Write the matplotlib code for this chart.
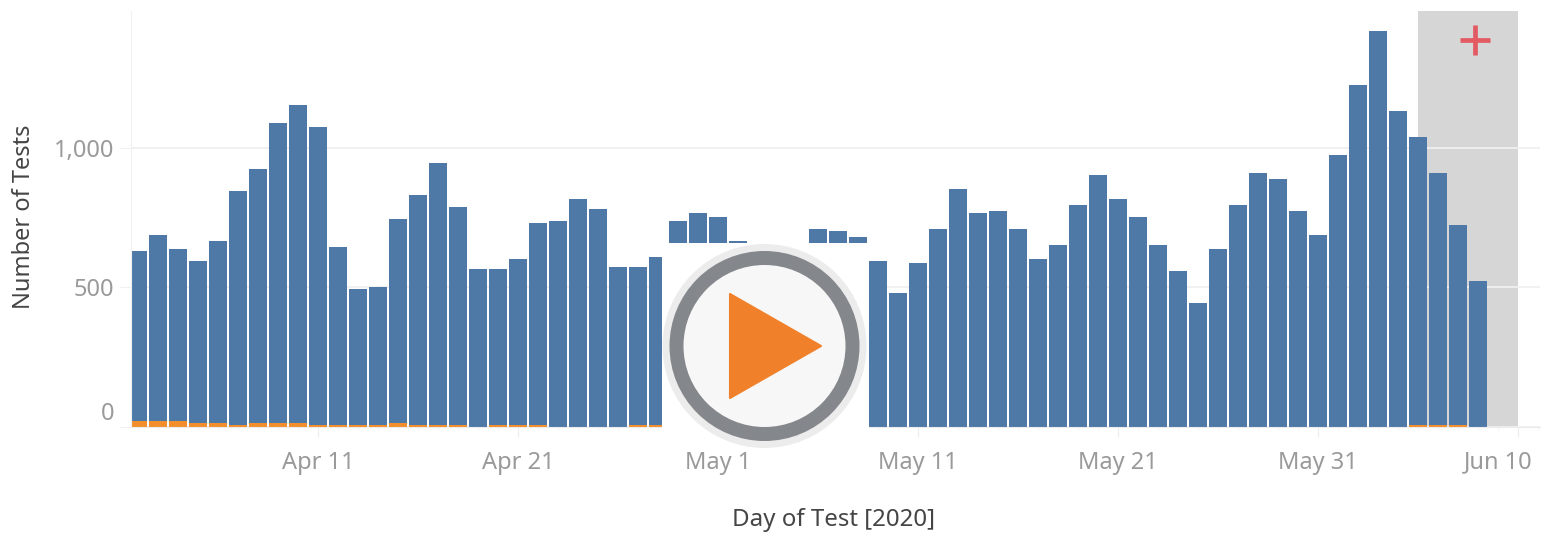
import numpy as np
import pandas as pd
import matplotlib
matplotlib.use('Agg')
import matplotlib.pyplot as plt
import matplotlib.dates as mdates
from matplotlib.patches import Circle, Polygon, Rectangle
from matplotlib.transforms import ScaledTranslation

plt.rcParams['font.family'] = ['Noto Sans', 'DejaVu Sans']

first_day = '2020-04-02'
# negative tests per day, Apr 2 to Jun 8 (three bars behind the play button are guessed)
blue_top = [630, 688, 638, 595, 667, 846, 925, 1090, 1154, 1075,
            645, 495, 502, 745, 831, 946, 788, 566, 566, 602,
            731, 738, 817, 781, 573, 573, 609, 738, 767, 753,
            667, 640, 620, 640, 710, 703, 681, 595, 480, 588,
            710, 853, 767, 774, 710, 602, 652, 796, 903, 817,
            753, 652, 559, 444, 638, 796, 910, 889, 774, 688,
            975, 1226, 1419, 1133, 1039, 910, 724, 523]
orange = [21, 21, 21, 14, 14, 7, 14, 14, 14, 7,
          7, 7, 7, 14, 7, 7, 7, 0, 7, 7,
          7, 0, 0, 0, 0, 7, 7, 0, 0, 0,
          0, 0, 0, 0, 0, 0, 0, 0, 0, 0,
          0, 0, 0, 0, 0, 0, 0, 0, 0, 0,
          0, 0, 0, 0, 0, 0, 0, 0, 0, 0,
          0, 0, 0, 0, 7, 7, 7, 0]
tick_days = ['2020-04-11', '2020-04-21', '2020-05-01', '2020-05-11',
             '2020-05-21', '2020-05-31', '2020-06-10']
tick_labels = ['Apr 11', 'Apr 21', 'May 1', 'May 11', 'May 21', 'May 31', 'Jun 10']
y_ticks = [0, 500, 1000]
y_labels = ['0', '500', '1,000']
band_days = ['2020-06-05', '2020-06-10']

W, H = 1546, 535
fig = plt.figure(figsize=(W / 100, H / 100), dpi=100)
ax = fig.add_axes([131 / W, 1 - 427 / H, (1540 - 131) / W, (427 - 11) / H])

days = pd.date_range(first_day, periods=len(blue_top))
blue_top = np.array(blue_top)
orange = np.array(orange)

# grey highlight + grid go under the bars
ax.axvspan(pd.Timestamp(band_days[0]), pd.Timestamp(band_days[1]), color='#d6d6d6', lw=0, zorder=0)
ax.grid(axis='y', color='#f0f0f0', lw=1.3, zorder=1)
ax.set_axisbelow(True)

ax.bar(days, blue_top - orange, bottom=orange, width=0.89, color='#4e78a6', zorder=2)
ax.bar(days, orange, width=0.89, color='#f28e2b', zorder=2)

ax.set_xlim(days[0] - pd.Timedelta(days=0.35), days[0] + pd.Timedelta(days=70.1))
ax.set_ylim(0, 1491)

for s in ['top', 'right']:
    ax.spines[s].set_visible(False)
ax.spines['left'].set_color('#f0f0f0')
ax.spines['bottom'].set_color('#ececec')

ax.set_xticks(pd.to_datetime(tick_days))
ax.set_xticklabels(tick_labels)
ax.xaxis.set_minor_locator(mdates.DayLocator())
ax.tick_params(axis='x', which='major', length=7, color='#ececec', labelcolor='#9a9a9a',
               labelsize=17, pad=10)
ax.tick_params(axis='x', which='minor', length=2.5, color='#f0f0f0')
ax.set_yticks(y_ticks)
ax.set_yticklabels(y_labels)
ax.tick_params(axis='y', length=8, color='#f0f0f0', labelcolor='#9a9a9a', labelsize=17, pad=4)

# Tableau nudges the labels at the ends so they stay inside the view
ylabs = ax.get_yticklabels()
ylabs[0].set_va('bottom')
ylabs[0].set_transform(ylabs[0].get_transform() + ScaledTranslation(0, 1 / 100, fig.dpi_scale_trans))
xlabs = ax.get_xticklabels()
xlabs[-1].set_transform(xlabs[-1].get_transform() + ScaledTranslation(-20 / 100, 0, fig.dpi_scale_trans))

fig.text(834 / W, 1 - 520 / H, 'Day of Test [2020]', ha='center', va='center', color='#454545', fontsize=17.3)
fig.text(24 / W, 1 - 217 / H, 'Number of Tests', ha='center', va='center', rotation=90, color='#454545', fontsize=17)

# play button and the + marker sit on top, in pixel coordinates
over = fig.add_axes([0, 0, 1, 1], facecolor='none')
over.set_xlim(0, W)
over.set_ylim(H, 0)
over.axis('off')
over.add_patch(Rectangle((662, 243), 207, 205, fc='white', ec='none'))
over.add_patch(Circle((764.5, 346), 102, fc='#ececec', ec='none'))
over.add_patch(Circle((764.5, 346), 95, fc='#84878b', ec='none'))
over.add_patch(Circle((764.5, 346), 81, fc='#f7f7f7', ec='none'))
over.add_patch(Polygon([(730, 294), (730, 398), (821, 346)], fc='#f0802a', ec='#f0802a', lw=1.5, joinstyle='round'))
over.plot([1475], [40], marker='+', ms=22, mew=3.4, color='#e35a62')

fig.savefig('out.png', dpi=100)
